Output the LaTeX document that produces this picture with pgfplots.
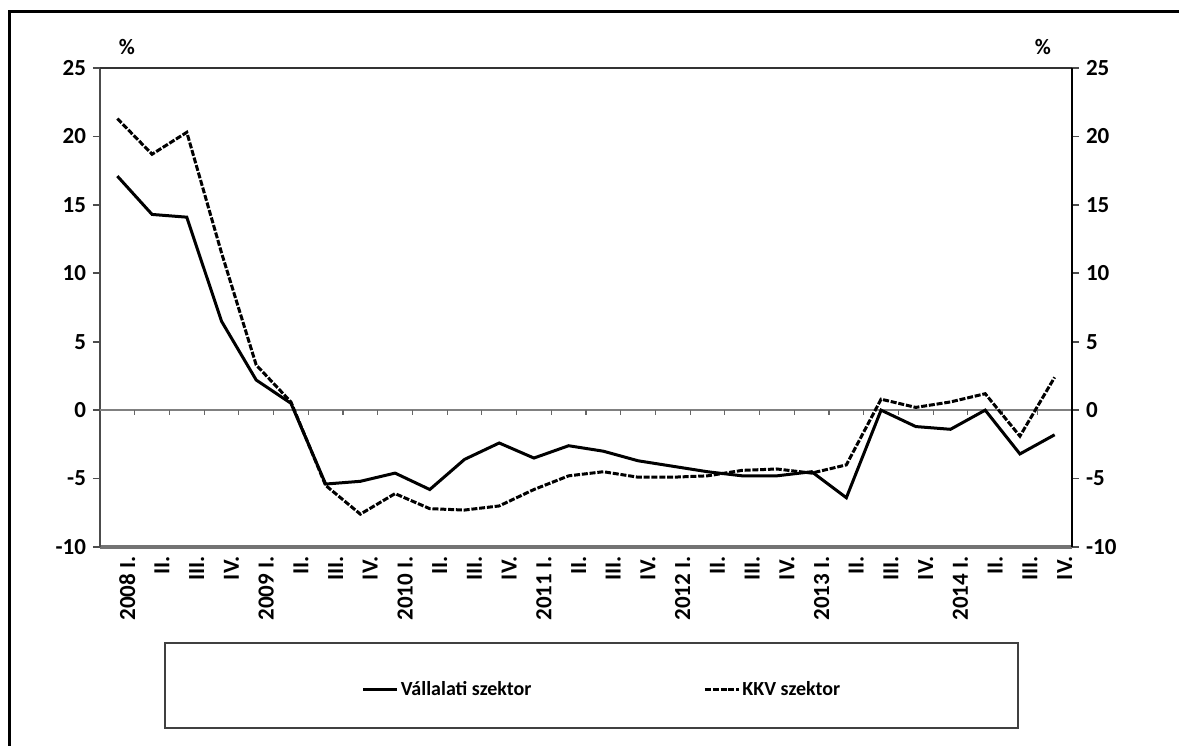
\documentclass[border=0pt]{standalone}
\usepackage{pgfplots}
\usepackage{pgfplotstable}
\pgfplotsset{compat=1.18}
\usepackage{fontspec}
\setmainfont{Carlito}

% quarterly growth, % (Vallalati = solid, KKV = dashed)
\pgfplotstableread{
i  vall  kkv
0  17.1  21.3
1  14.3  18.7
2  14.1  20.3
3   6.5  11.5
4   2.2   3.3
5   0.5   0.6
6  -5.4  -5.5
7  -5.2  -7.6
8  -4.6  -6.1
9  -5.8  -7.2
10 -3.6  -7.3
11 -2.4  -7.0
12 -3.5  -5.8
13 -2.6  -4.8
14 -3.0  -4.5
15 -3.7  -4.9
16 -4.1  -4.9
17 -4.5  -4.8
18 -4.8  -4.4
19 -4.8  -4.3
20 -4.5  -4.6
21 -6.4  -4.0
22  0.0   0.8
23 -1.2   0.2
24 -1.4   0.6
25  0.0   1.2
26 -3.2  -1.9
27 -1.8   2.4
}\data

\begin{document}
\begin{tikzpicture}
\useasboundingbox (0,0) rectangle (589.5pt,372.5pt);
\draw[line width=1.5pt] (4.5pt,-2pt) -- (4.5pt,366.5pt) -- (592pt,366.5pt);

\pgfplotsset{
  common/.style={
    at={(50pt,99pt)}, anchor=south west,
    scale only axis, width=486pt, height=239.5pt,
    xmin=-0.5, xmax=27.5, ymin=-10, ymax=25,
    ytick={-10,-5,...,25},
    tick align=outside, major tick length=3.5pt,
    tick label style={font=\fontsize{11.5}{13}\selectfont\bfseries},
    /pgf/number format/assume math mode=true,
  }
}

\begin{axis}[common,
  axis x line*=bottom, axis y line*=left,
  x axis line style={draw=black!55, line width=1.6pt},
  y axis line style={draw=black!70, line width=1.1pt},
  xtick={0,...,27},
  xticklabels={2008 I.,II.,III.,IV.,2009 I.,II.,III.,IV.,2010 I.,II.,III.,IV.,
    2011 I.,II.,III.,IV.,2012 I.,II.,III.,IV.,2013 I.,II.,III.,IV.,2014 I.,II.,III.,IV.},
  x tick style={draw=none},
  x tick label style={rotate=90, anchor=east, inner sep=1pt, yshift=-5pt},
  y tick style={black!70, line width=0.8pt},
  legend columns=2,
  legend style={draw=none, fill=none, at={(0.5165,-0.2985)}, anchor=center,
    font=\fontsize{10}{12}\selectfont\bfseries,
    /tikz/every even column/.append style={column sep=85pt},
    nodes={inner xsep=1pt}},
  legend image code/.code={\draw[#1] (0pt,0pt) -- (17pt,0pt);},
]
\draw[black!50, line width=0.7pt] (axis cs:-0.5,0) -- (axis cs:27.5,0);
\pgfplotsinvokeforeach{0.5,1.5,...,26.5}{
  \draw[black!60, line width=0.6pt] (axis cs:#1,0) -- ([yshift=-2.2pt]axis cs:#1,0);
}
\addplot[black, line width=1.5pt] table[x=i, y=vall] {\data};
\addlegendentry{Vállalati szektor}
\addplot[black, line width=1.5pt, dash pattern=on 3pt off 0.9pt] table[x=i, y=kkv] {\data};
\addlegendentry{KKV szektor}
\end{axis}

\begin{axis}[common,
  axis x line*=top, axis y line*=right,
  x axis line style={draw=black!80, line width=1.1pt},
  y axis line style={draw=black, line width=1.1pt},
  xtick=\empty,
  y tick style={black!70, line width=0.8pt},
]
\end{axis}

\node[font=\fontsize{11}{13}\selectfont\bfseries] at (63.5pt,349pt) {\%};
\node[font=\fontsize{11}{13}\selectfont\bfseries] at (521.5pt,349pt) {\%};
\draw[black!75, line width=1.3pt] (82.5pt,51pt) rectangle (509pt,8.5pt);
\end{tikzpicture}
\end{document}
